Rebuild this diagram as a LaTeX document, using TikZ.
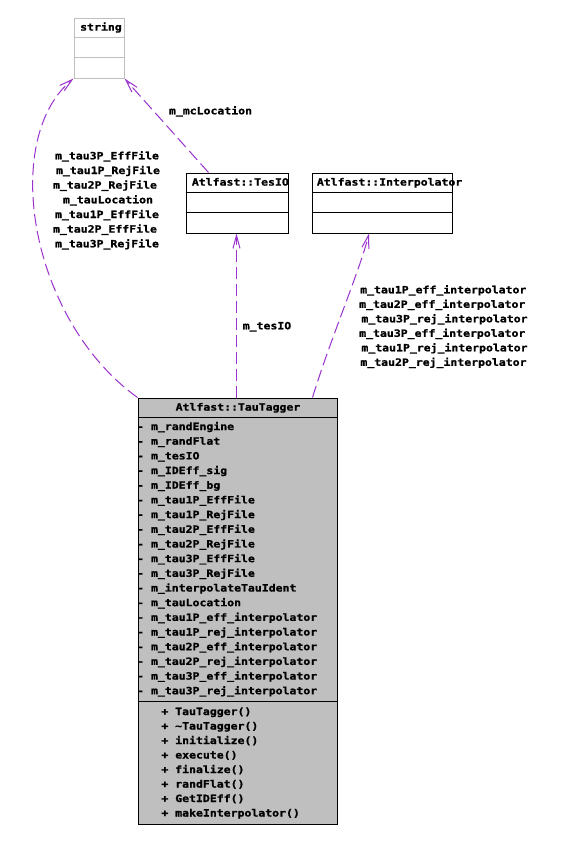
\documentclass[tikz,border=0pt]{standalone}
\usepackage{fontspec}
\newfontfamily\umlfont{DejaVu Sans Mono Bold}[FakeStretch=1.15, FakeBold=1.2]
\usetikzlibrary{arrows.meta}
\definecolor{edgepurple}{HTML}{9A32CD}
\definecolor{greyfill}{RGB}{191,191,191}
\begin{document}
\begin{tikzpicture}[x=1pt,y=-1pt,
  umltxt/.style={font=\umlfont\fontsize{10}{12}\selectfont, inner sep=0pt, anchor=base west},
  umllbl/.style={font=\umlfont\fontsize{10}{12}\selectfont, inner sep=0pt, anchor=base},
  classbox/.style={draw=black, line width=1pt, fill=white, inner sep=0pt, anchor=north west},
  dep/.style={draw=edgepurple, line width=1pt, dash pattern=on 12pt off 5pt,
    -{Straight Barb[length=13pt,width=7pt]}}]
\useasboundingbox (0,0) rectangle (574,841);
\fill[white] (0,0) rectangle (574,841);

% string
\node[classbox, draw=greyfill, minimum width=50pt, minimum height=60pt] (string) at (73.5,17.5) {};
\draw[greyfill, line width=1pt] (73.5,37.5) -- (123.5,37.5) (73.5,57.5) -- (123.5,57.5);
\node[umltxt] (stringt) at (80,30.6) {string};

% TesIO
\node[classbox, minimum width=102pt, minimum height=60pt] (tesio) at (185.5,172.5) {};
\draw[line width=1pt] (185.5,192.5) -- (287.5,192.5) (185.5,212.5) -- (287.5,212.5);
\node[umltxt] (tesiot) at (191.7,185.6) {Atlfast::TesIO};

% Interpolator
\node[classbox, minimum width=140pt, minimum height=60pt] (interp) at (311.5,172.5) {};
\draw[line width=1pt] (311.5,192.5) -- (451.5,192.5) (311.5,212.5) -- (451.5,212.5);
\node[umltxt] (interpt) at (316.7,185.6) {Atlfast::Interpolator};

% TauTagger
\node[classbox, fill=greyfill, minimum width=199pt, minimum height=426pt] (tau) at (137.5,397.5) {};
\draw[line width=1pt] (137.5,417.5) -- (336.5,417.5) (137.5,701.5) -- (336.5,701.5);
\node[umllbl] (taut) at (238,410.6) {Atlfast::TauTagger};

\foreach \t [count=\i from 0] in {m\_randEngine, m\_randFlat, m\_tesIO, m\_IDEff\_sig, m\_IDEff\_bg,
  m\_tau1P\_EffFile, m\_tau1P\_RejFile, m\_tau2P\_EffFile, m\_tau2P\_RejFile, m\_tau3P\_EffFile,
  m\_tau3P\_RejFile, m\_interpolateTauIdent, m\_tauLocation, m\_tau1P\_eff\_interpolator,
  m\_tau1P\_rej\_interpolator, m\_tau2P\_eff\_interpolator, m\_tau2P\_rej\_interpolator,
  m\_tau3P\_eff\_interpolator, m\_tau3P\_rej\_interpolator}
  \node[umltxt] (attr\i) at (137,430+14.68*\i) {- \t};

\foreach \t [count=\i from 0] in {TauTagger(), \textasciitilde TauTagger(), initialize(), execute(),
  finalize(), randFlat(), GetIDEff(), makeInterpolator()}
  \node[umltxt] (meth\i) at (161.2,715+14.5*\i) {+ \t};

% edges
\draw[dep] (tau.north west) .. controls (30,320) and (0,140) .. (string.south west);
\draw[dep] ([xshift=23pt]tesio.north west) -- (string.south east);
\draw[dep] ([xshift=-0.5pt]tesio.south |- tau.north) -- ([xshift=-0.5pt]tesio.south);
\draw[dep] ([xshift=175pt]tau.north west) .. controls (330,340) and (360,270) .. ([xshift=57.5pt]interp.south west);

% edge labels
\node[umllbl] (l1) at (107,159.3) {m\_tau3P\_EffFile};
\node[umllbl] (l2) at (108,174.0) {m\_tau1P\_RejFile};
\node[umllbl] (l3) at (105,188.6) {m\_tau2P\_RejFile};
\node[umllbl] (l4) at (108,203.3) {m\_tauLocation};
\node[umllbl] (l5) at (107,218.0) {m\_tau1P\_EffFile};
\node[umllbl] (l6) at (105,232.6) {m\_tau2P\_EffFile};
\node[umllbl] (l7) at (107,247.3) {m\_tau3P\_RejFile};

\node[umllbl] (lmc) at (210.5,114.3) {m\_mcLocation};
\node[umllbl] (ltes) at (267,329.3) {m\_tesIO};

\node[umllbl] (r1) at (443.3,293.3) {m\_tau1P\_eff\_interpolator};
\node[umllbl] (r2) at (442.3,307.8) {m\_tau2P\_eff\_interpolator};
\node[umllbl] (r3) at (444.5,322.3) {m\_tau3P\_rej\_interpolator};
\node[umllbl] (r4) at (442.3,336.8) {m\_tau3P\_eff\_interpolator};
\node[umllbl] (r5) at (444.5,351.3) {m\_tau1P\_rej\_interpolator};
\node[umllbl] (r6) at (443.5,365.8) {m\_tau2P\_rej\_interpolator};
\end{tikzpicture}
\end{document}
